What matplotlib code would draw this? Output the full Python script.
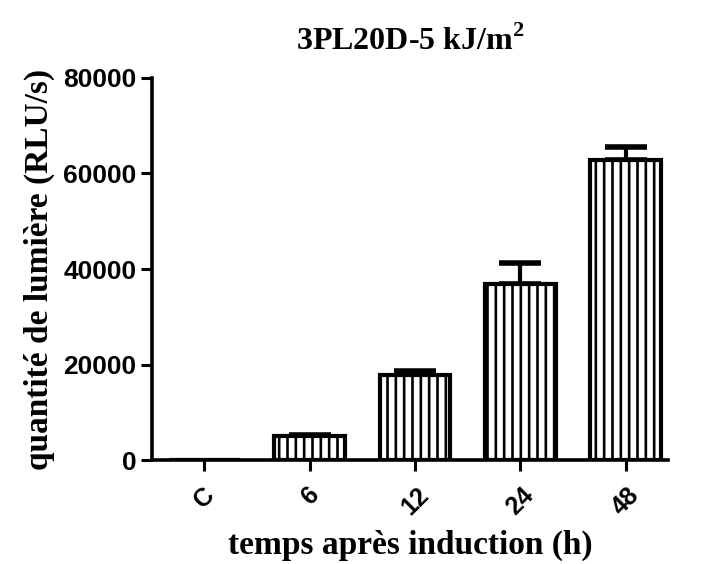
import matplotlib
matplotlib.use("Agg")
import matplotlib.pyplot as plt
import numpy as np

categories = ["C", "6", "12", "24", "48"]
values = [0, 5000, 17800, 36800, 62900]
errors = [0, 300, 900, 4500, 2600]
yticks = [0, 20000, 40000, 60000, 80000]

plt.rcParams['hatch.linewidth'] = 1.9
plt.rcParams['mathtext.fontset'] = 'custom'
plt.rcParams['mathtext.bf'] = 'Liberation Serif:bold'
plt.rcParams['mathtext.rm'] = 'Liberation Serif'
fig = plt.figure(figsize=(7.26, 5.64), dpi=100)
ax = fig.add_axes([0.209, 0.184, 0.711, 0.678])

x = np.arange(len(categories))
ax.bar(x, values, width=0.67, facecolor='white', edgecolor='black',
       linewidth=3.0, hatch='||', zorder=2)
ax.errorbar(x[1:], values[1:], yerr=[np.zeros(len(x) - 1), errors[1:]],
            fmt='none', ecolor='black', elinewidth=3.0, capsize=15, capthick=4, zorder=1)

ax.set_xlim(-0.5, 4.4)
ax.set_ylim(0, 80000)
ax.set_yticks(yticks)
ax.set_yticklabels([str(v) for v in yticks], fontfamily='Liberation Sans',
                   fontweight='bold', fontsize=19)
ax.set_xticks(x)
ax.set_xticklabels(categories, rotation=45, ha='center', va='top',
                   fontfamily='Liberation Sans', fontweight='bold', fontsize=18)

for s in ['top', 'right']:
    ax.spines[s].set_visible(False)
for s in ['left', 'bottom']:
    ax.spines[s].set_linewidth(2.6)
ax.tick_params(axis='both', length=8, width=2.2, direction='out', pad=3)
ax.tick_params(axis='x', pad=8)

ax.set_xlabel("temps après induction (h)", fontfamily='Liberation Serif',
              fontweight='bold', fontsize=24, labelpad=8)
ax.set_ylabel("quantité de lumière (RLU/s)", fontfamily='Liberation Serif',
              fontweight='bold', fontsize=24, labelpad=6)
ax.set_title("3PL20D-5 kJ/m$^\\mathbf{2}$", fontfamily='Liberation Serif',
             fontweight='bold', fontsize=23, pad=20)

fig.savefig("out.png", dpi=100)
